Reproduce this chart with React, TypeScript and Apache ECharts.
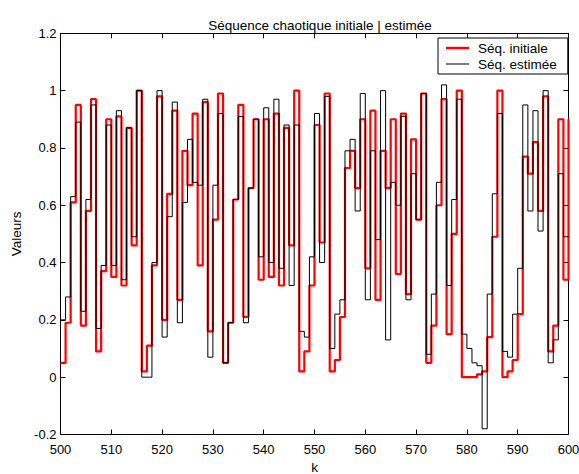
import React, { useEffect, useRef } from "react";
import * as echarts from "echarts";

const START_K = 500;
const initialSeq = [
  0.05, 0.19, 0.61, 0.95, 0.18, 0.58, 0.97, 0.09, 0.37, 0.90,
  0.35, 0.91, 0.32, 0.87, 0.46, 1.00, 0.02, 0.11, 0.39, 0.98,
  0.20, 0.64, 0.93, 0.27, 0.79, 0.67, 0.92, 0.39, 0.96, 0.16,
  0.55, 0.99, 0.05, 0.19, 0.62, 0.95, 0.21, 0.66, 0.90, 0.34,
  0.90, 0.35, 0.92, 0.32, 0.87, 0.46, 1.00, 0.02, 0.09, 0.32,
  0.88, 0.47, 0.99, 0.02, 0.06, 0.21, 0.73, 0.79, 0.66, 0.90,
  0.38, 0.93, 0.27, 0.79, 0.66, 0.90, 0.36, 0.92, 0.29, 0.83,
  0.55, 0.99, 0.05, 0.18, 0.60, 0.97, 0.15, 0.50, 1.00, 0.00,
  0.00, 0.00, 0.01, 0.02, 0.14, 0.49, 1.00, 0.00, 0.02, 0.06,
  0.22, 0.77, 0.71, 0.82, 0.58, 0.98, 0.09, 0.18, 0.90, 0.34,
  0.90,
];
const estimatedSeq = [
  0.20, 0.28, 0.63, 0.89, 0.23, 0.62, 0.95, 0.17, 0.39, 0.88,
  0.39, 0.93, 0.34, 0.87, 0.49, 1.00, 0.00, 0.00, 0.40, 1.00,
  0.14, 0.56, 0.96, 0.19, 0.61, 0.83, 0.68, 0.67, 0.97, 0.07,
  0.67, 0.92, 0.05, 0.19, 0.62, 0.91, 0.19, 0.66, 0.90, 0.42,
  0.94, 0.40, 0.97, 0.38, 0.88, 0.32, 0.88, 0.16, 0.14, 0.42,
  0.92, 0.40, 0.98, 0.10, 0.22, 0.27, 0.79, 0.83, 0.58, 0.99,
  0.27, 0.79, 0.48, 1.00, 0.13, 0.68, 0.60, 0.91, 0.27, 0.71,
  0.55, 0.99, 0.08, 0.29, 0.68, 1.02, 0.32, 0.62, 0.97, 0.15,
  0.10, 0.05, 0.04, -0.18, 0.29, 0.64, 0.92, 0.09, 0.07, 0.22,
  0.38, 0.95, 0.58, 0.93, 0.51, 1.00, 0.05, 0.13, 0.71, 0.49,
  0.49,
];
const seriesNames = ["Séq. initiale", "Séq. estimée"];
const titleText = "Séquence chaotique initiale | estimée";
const xName = "k";
const yName = "Valeurs";

const FONT = "Liberation Sans, Arial, Helvetica, sans-serif";

function toPairs(vals: number[]) {
  return vals.map((v, i) => [START_K + i, v]);
}

export default function App() {
  const ref = useRef<HTMLDivElement>(null);
  useEffect(() => {
    if (!ref.current) return;
    const chart = echarts.init(ref.current, undefined, { renderer: "svg" });
    const tickCommon = {
      show: true,
      inside: true,
      length: 5,
      lineStyle: { color: "#000", width: 1 },
    };
    const axisLineCommon = {
      show: true,
      onZero: false,
      lineStyle: { color: "#000", width: 1 },
    };
    chart.setOption({
      animation: false,
      backgroundColor: "#fff",
      title: {
        text: titleText,
        left: 315,
        textAlign: "center",
        top: 13,
        textStyle: { fontFamily: FONT, fontSize: 13.5, fontWeight: "normal", color: "#000" },
      },
      legend: {
        orient: "vertical",
        left: 438,
        top: 38,
        backgroundColor: "#fff",
        borderColor: "#000",
        borderWidth: 1,
        borderRadius: 0,
        padding: [3, 11, 3, 8],
        itemWidth: 23,
        itemHeight: 12,
        itemGap: 2,
        textStyle: {
          fontFamily: FONT,
          fontSize: 13.5,
          color: "#000",
          lineHeight: 14,
          padding: [0, 0, 0, 4],
        },
        data: [
          { name: seriesNames[0], icon: "path://M0,0H23V2.4H0Z" },
          { name: seriesNames[1], icon: "path://M0,0H23V1H0Z" },
        ],
      },
      grid: {
        left: 60.5,
        right: 10.5,
        top: 33.3,
        bottom: 39.5,
        containLabel: false,
        outerBoundsMode: "none",
      },
      xAxis: [
        {
          type: "value",
          min: 500,
          max: 600,
          interval: 10,
          name: xName,
          nameLocation: "middle",
          nameGap: 26,
          nameTextStyle: { fontFamily: FONT, fontSize: 13.5, color: "#000" },
          axisLine: axisLineCommon,
          axisTick: tickCommon,
          axisLabel: { fontFamily: FONT, fontSize: 13, color: "#000", margin: 8 },
          splitLine: { show: false },
        },
        {
          type: "value",
          position: "top",
          min: 500,
          max: 600,
          interval: 10,
          axisLine: axisLineCommon,
          axisTick: tickCommon,
          axisLabel: { show: false },
          splitLine: { show: false },
        },
      ],
      yAxis: [
        {
          type: "value",
          min: -0.2,
          max: 1.2,
          interval: 0.2,
          name: yName,
          nameLocation: "middle",
          nameGap: 36,
          nameTextStyle: { fontFamily: FONT, fontSize: 13.5, color: "#000" },
          axisLine: axisLineCommon,
          axisTick: tickCommon,
          axisLabel: { fontFamily: FONT, fontSize: 13, color: "#000", margin: 4 },
          splitLine: { show: false },
        },
        {
          type: "value",
          position: "right",
          min: -0.2,
          max: 1.2,
          interval: 0.2,
          axisLine: axisLineCommon,
          axisTick: tickCommon,
          axisLabel: { show: false },
          splitLine: { show: false },
        },
      ],
      series: [
        {
          name: seriesNames[0],
          type: "line",
          step: "end",
          symbol: "none",
          data: toPairs(initialSeq),
          lineStyle: { color: "#ff0000", width: 2.2 },
          itemStyle: { color: "#ff0000" },
          z: 2,
        },
        {
          name: seriesNames[1],
          type: "line",
          step: "end",
          symbol: "none",
          data: toPairs(estimatedSeq),
          lineStyle: { color: "#000", width: 1 },
          itemStyle: { color: "#000" },
          z: 3,
        },
      ],
    });
    return () => chart.dispose();
  }, []);
  return (
    <div
      ref={ref}
      style={{ position: "fixed", left: 0, top: 0, width: 579, height: 474 }}
    />
  );
}
